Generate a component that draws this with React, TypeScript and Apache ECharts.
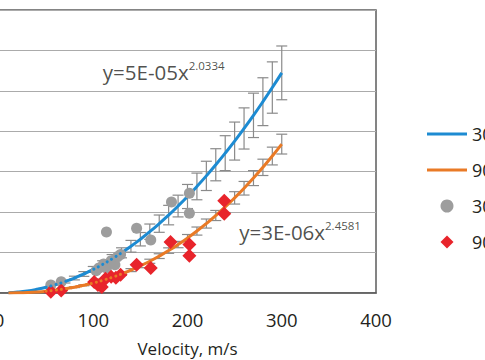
import React, { useEffect, useRef } from "react";
import * as echarts from "echarts";

const FONT = "'Open Sans', 'Noto Sans', sans-serif";

// Trend-line values (x in m/s)
const curveX = [10, 20, 30, 40, 50, 60, 70, 80, 90, 100, 110, 120, 130, 140, 150, 160, 170, 180, 190, 200, 210, 220, 230, 240, 250, 260, 270, 280, 290, 300];
const fit30 = [0.005, 0.022, 0.05, 0.091, 0.142, 0.206, 0.282, 0.37, 0.471, 0.583, 0.708, 0.845, 0.994, 1.156, 1.33, 1.516, 1.715, 1.927, 2.151, 2.387, 2.636, 2.897, 3.172, 3.459, 3.758, 4.07, 4.394, 4.732, 5.082, 5.445];
const fit90 = [0.001, 0.005, 0.013, 0.026, 0.045, 0.071, 0.103, 0.143, 0.191, 0.247, 0.313, 0.387, 0.471, 0.566, 0.67, 0.785, 0.912, 1.049, 1.198, 1.359, 1.532, 1.718, 1.917, 2.128, 2.353, 2.591, 2.842, 3.108, 3.388, 3.683];

// Error bars (half-lengths) along each trend line
const err30X = [70, 80, 90, 100, 110, 120, 130, 140, 150, 160, 170, 180, 190, 200, 210, 220, 230, 240, 250, 260, 270, 280, 290, 300];
const err30 = [0.035, 0.046, 0.059, 0.073, 0.089, 0.106, 0.124, 0.145, 0.166, 0.19, 0.214, 0.241, 0.269, 0.298, 0.33, 0.362, 0.397, 0.432, 0.47, 0.509, 0.549, 0.592, 0.635, 0.665];
const err90X = [80, 90, 100, 110, 120, 130, 140, 150, 160, 170, 180, 190, 200, 210, 220, 230, 240, 250, 260, 270, 280, 290, 300];
const err90 = [0.009, 0.012, 0.016, 0.02, 0.025, 0.031, 0.037, 0.044, 0.051, 0.059, 0.068, 0.078, 0.088, 0.1, 0.112, 0.125, 0.138, 0.153, 0.168, 0.185, 0.202, 0.22, 0.245];

// Measured points
const pts30X = [55, 66, 103, 106, 111, 114, 119, 123, 126, 129, 114, 146, 161, 183, 202, 202];
const pts30Y = [0.2, 0.28, 0.55, 0.62, 0.72, 0.62, 0.8, 0.7, 0.9, 0.95, 1.51, 1.6, 1.31, 2.25, 2.47, 1.97];
const pts90X = [55, 66, 101, 105, 109, 113, 119, 124, 129, 146, 161, 182, 202, 202, 239, 239];
const pts90Y = [0.03, 0.06, 0.27, 0.2, 0.15, 0.35, 0.4, 0.38, 0.45, 0.7, 0.62, 1.26, 1.2, 0.92, 2.28, 1.96];

const seriesNames = ["30° trend", "90° trend", "30°", "90°"];
const eqText30 = ["y=5E-05x", "2.0334"];
const eqText90 = ["y=3E-06x", "2.4581"];
const eqPos30 = [109.6, 5.47];
const eqPos90 = [254.3, 1.51];
const dotted30Range = [50, 130];
const dotted90Range = [50, 140];

const BLUE = "#1d8bd2";
const ORANGE = "#e97a26";
const GRAY = "#9d9d9d";
const RED = "#e8242b";
const TEXT = "#231f20";

const pairs = (xs: number[], ys: number[]) => xs.map((x, i) => [x, ys[i]]);
const inRange = (xs: number[], ys: number[], r: number[]) =>
  pairs(xs, ys).filter((p) => p[0] >= r[0] && p[0] <= r[1]);
const errData = (xs: number[], errs: number[], curve: number[]) =>
  xs.map((x, i) => {
    const c = curve[curveX.indexOf(x)];
    return [x, c - errs[i], c + errs[i]];
  });

const errorBarSeries = (data: number[][]) => ({
  type: "custom",
  silent: true,
  z: 1,
  data,
  encode: { x: 0, y: [1, 2] },
  renderItem: (_params: any, api: any) => {
    const x = api.value(0);
    const lo = api.coord([x, api.value(1)]);
    const hi = api.coord([x, api.value(2)]);
    const w = 5.5;
    const style = { stroke: "#8a8a8a", lineWidth: 1.2 };
    return {
      type: "group",
      children: [
        { type: "line", shape: { x1: lo[0], y1: lo[1], x2: hi[0], y2: hi[1] }, style },
        { type: "line", shape: { x1: lo[0] - w, y1: lo[1], x2: lo[0] + w, y2: lo[1] }, style },
        { type: "line", shape: { x1: hi[0] - w, y1: hi[1], x2: hi[0] + w, y2: hi[1] }, style },
      ],
    };
  },
});

const eqSeries = (pos: number[], txt: string[]) => ({
  type: "scatter",
  silent: true,
  symbolSize: 1,
  itemStyle: { color: "transparent" },
  z: 6,
  data: [pos],
  label: {
    show: true,
    position: "right",
    distance: 0,
    formatter: `{a|${txt[0]}}{b|${txt[1]}}`,
    rich: {
      a: { fontSize: 20.5, lineHeight: 24, color: TEXT, fontFamily: FONT },
      b: { fontSize: 11.5, lineHeight: 13, color: TEXT, fontFamily: FONT, verticalAlign: "top" },
    },
  },
});

export default function App() {
  const ref = useRef<HTMLDivElement>(null);
  useEffect(() => {
    if (!ref.current) return;
    const chart = echarts.init(ref.current, null, { renderer: "svg" });
    chart.setOption({
      animation: false,
      backgroundColor: "#ffffff",
      textStyle: { fontFamily: FONT },
      grid: {
        left: -1,
        top: 10,
        width: 377,
        height: 283,
        show: true,
        borderColor: "#5c5c5c",
        borderWidth: 1.5,
        outerBoundsMode: "none",
        containLabel: false,
      },
      legend: {
        orient: "vertical",
        left: 422,
        top: 120,
        itemWidth: 40,
        itemHeight: 13,
        itemGap: 18,
        data: [
          { name: seriesNames[0], icon: "path://M0,0h40v3h-40z" },
          { name: seriesNames[1], icon: "path://M0,0h40v3h-40z" },
          { name: seriesNames[2], icon: "circle" },
          { name: seriesNames[3], icon: "path://M0,7L7,0L14,7L7,14Z" },
        ],
        textStyle: { fontSize: 18, color: TEXT, fontFamily: FONT },
        selectedMode: false,
      },
      xAxis: {
        type: "value",
        min: 0,
        max: 400,
        interval: 100,
        axisLine: { show: true, lineStyle: { color: "#5c5c5c", width: 1.5 } },
        axisTick: { show: false },
        splitLine: { show: false },
        axisLabel: { fontSize: 18.5, color: TEXT, margin: 17, fontFamily: FONT },
        name: "Velocity, m/s",
        nameLocation: "middle",
        nameGap: 47,
        nameTextStyle: { fontSize: 17, color: TEXT, fontFamily: FONT },
      },
      yAxis: {
        type: "value",
        min: 0,
        max: 7,
        interval: 1,
        axisLabel: { show: false },
        axisLine: { show: false },
        axisTick: { show: false },
        splitLine: { lineStyle: { color: "#ababab", width: 1.2 } },
      },
      series: [
        errorBarSeries(errData(err30X, err30, fit30)),
        errorBarSeries(errData(err90X, err90, fit90)),
        {
          name: seriesNames[0],
          type: "line",
          data: pairs(curveX, fit30),
          showSymbol: false,
          symbol: "none",
          smooth: true,
          z: 2,
          lineStyle: { color: BLUE, width: 3 },
          itemStyle: { color: BLUE },
        },
        {
          name: seriesNames[1],
          type: "line",
          data: pairs(curveX, fit90),
          showSymbol: false,
          symbol: "none",
          smooth: true,
          z: 2,
          lineStyle: { color: ORANGE, width: 3 },
          itemStyle: { color: ORANGE },
        },
        {
          name: seriesNames[2],
          type: "scatter",
          symbol: "circle",
          symbolSize: 11,
          z: 3,
          data: pairs(pts30X, pts30Y),
          itemStyle: { color: GRAY, opacity: 1 },
        },
        {
          name: seriesNames[3],
          type: "scatter",
          symbol: "diamond",
          symbolSize: 14,
          z: 3,
          data: pairs(pts90X, pts90Y),
          itemStyle: { color: RED, opacity: 1 },
        },
        {
          type: "line",
          data: inRange(curveX, fit30, dotted30Range),
          showSymbol: false,
          symbol: "none",
          smooth: true,
          silent: true,
          z: 4,
          lineStyle: { color: BLUE, width: 3, type: [0.1, 5], cap: "round" },
        },
        {
          type: "line",
          data: inRange(curveX, fit90, dotted90Range),
          showSymbol: false,
          symbol: "none",
          smooth: true,
          silent: true,
          z: 4,
          lineStyle: { color: ORANGE, width: 3, type: [0.1, 5], cap: "round" },
        },
        eqSeries(eqPos30, eqText30),
        eqSeries(eqPos90, eqText90),
      ],
    });
    return () => chart.dispose();
  }, []);
  return (
    <div
      ref={ref}
      style={{ position: "fixed", left: 0, top: 0, width: 485, height: 360 }}
    />
  );
}
